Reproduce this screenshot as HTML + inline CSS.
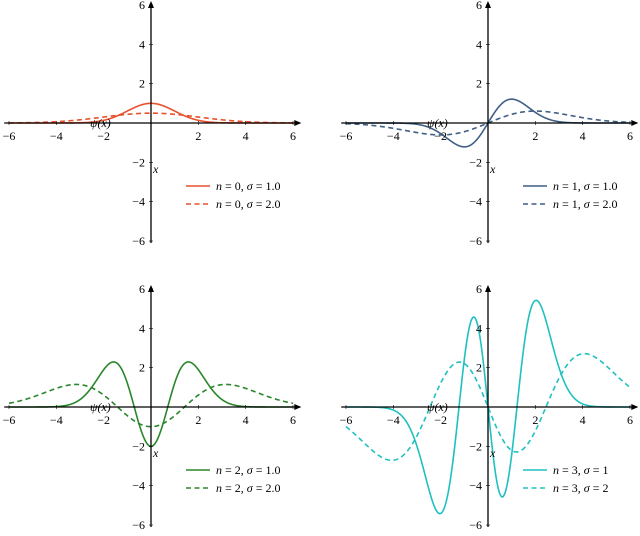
<!DOCTYPE html>
<html><head><meta charset="utf-8"><style>
body{margin:0;background:#fff}
svg,svg text{font-family:"Liberation Serif","DejaVu Serif",serif;font-size:12px}
</style></head><body>
<svg id="s" width="640" height="531" xmlns="http://www.w3.org/2000/svg" font-family="Liberation Serif, serif"></svg>
<script>
const s=document.getElementById('s');let h='';
const xs=23.67,ys=19.67;
function H(n,t){return [1,2*t,4*t*t-2,8*t*t*t-12*t][n];}
function f(n,sg,x){const t=x/sg;return H(n,t)*Math.exp(-t*t/2)/sg;}
const P=[[151,123,0,'#e8512c','0','1.0','2.0'],[488,123,1,'#3f5f85','1','1.0','2.0'],[151,407,2,'#2a862a','2','1.0','2.0'],[488,407,3,'#1fc0c0','3','1','2']];
for(const [cx,cy,n,c,ns,s1,s2] of P){
 const X=v=>cx+v*xs,Y=v=>cy-v*ys;
 for(const sg of [1,2]){let d='';for(let i=0;i<=600;i++){const x=-6+12*i/600;d+=(i?'L':'M')+X(x).toFixed(2)+' '+Y(f(n,sg,x)).toFixed(2);}
  h+=`<path d="${d}" fill="none" stroke="${c}" stroke-width="1.6" ${sg==2?'stroke-dasharray="5,3.5"':''}/>`;}
 h+=`<line x1="${X(-6.2)}" y1="${cy}" x2="${X(6.3)}" y2="${cy}" stroke="#000" stroke-width="1.3"/><path d="M${X(6.35)} ${cy}l-7 -3v6z"/>`;
 h+=`<line x1="${cx}" y1="${Y(-6.1)}" x2="${cx}" y2="${Y(6.1)}" stroke="#000" stroke-width="1.3"/><path d="M${cx} ${Y(6.2)}l-3 7h6z"/>`;
 for(const v of [-6,-4,-2,2,4,6]){
  h+=`<line x1="${X(v)}" y1="${cy-2}" x2="${X(v)}" y2="${cy+2}" stroke="#000" stroke-width=".6"/>`;
  h+=`<text x="${X(v)}" y="${cy+17}" text-anchor="middle">${v<0?'−'+(-v):v}</text>`;
  h+=`<line x1="${cx-2}" y1="${Y(v)}" x2="${cx+2}" y2="${Y(v)}" stroke="#000" stroke-width=".6"/>`;
  h+=`<text x="${cx-6}" y="${Y(v)+4}" text-anchor="end">${v<0?'−'+(-v):v}</text>`;}
 h+=`<text x="${cx-61}" y="${cy+4}" font-style="italic">ψ(x)</text><text x="${cx+2}" y="${cy+50}" font-style="italic">x</text>`;
 const lx=cx+35,l1=cy+63;
 h+=`<line x1="${lx}" y1="${l1}" x2="${lx+24}" y2="${l1}" stroke="${c}" stroke-width="1.6"/><line x1="${lx}" y1="${l1+18}" x2="${lx+24}" y2="${l1+18}" stroke="${c}" stroke-width="1.6" stroke-dasharray="5,3.5"/>`;
 h+=`<text x="${lx+30}" y="${l1+4}"><tspan font-style="italic">n</tspan> = ${ns}, <tspan font-style="italic">σ</tspan> = ${s1}</text>`;
 h+=`<text x="${lx+30}" y="${l1+22}"><tspan font-style="italic">n</tspan> = ${ns}, <tspan font-style="italic">σ</tspan> = ${s2}</text>`;
}
s.innerHTML=h;
</script>
</body></html>
